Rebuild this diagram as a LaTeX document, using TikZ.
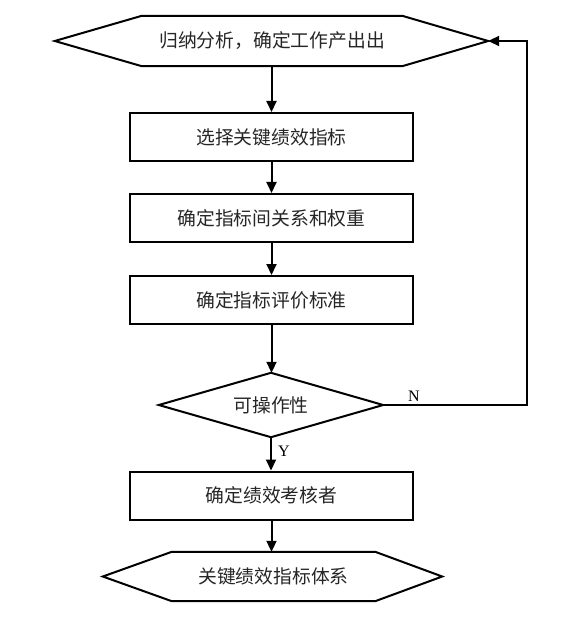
\documentclass[tikz,border=0pt]{standalone}
\usepackage{fontspec}
\setmainfont{Liberation Serif}
\newfontfamily\cjk{Noto Sans CJK SC}
\usetikzlibrary{arrows.meta}
\tikzset{
  every picture/.style={x=1pt,y=-1pt},
  line/.style={line width=2pt},
  arr/.style={line width=2pt,-{Triangle[length=11pt,width=10pt]}},
  txt/.style={font=\cjk\fontsize{18.8}{21}\selectfont,inner sep=0pt,text=black!85},
  boxr/.style={txt,draw,line width=2pt,minimum width=283pt,minimum height=48pt},
  hexbase/.style={txt},
  lbl/.style={font=\fontsize{16}{18}\selectfont,inner sep=0pt}
}
\begin{document}
\begin{tikzpicture}
\useasboundingbox (0,0) rectangle (581,617);
% top hexagon
\node[hexbase,minimum width=260pt,minimum height=50pt] (h1) at (272,41) {归纳分析，确定工作产出出};
\coordinate (h1r) at ([xshift=86pt]h1.east);
\coordinate (h1l) at ([xshift=-87pt]h1.west);
\draw[line] (h1.north west) -- (h1.north east) -- (h1r) -- (h1.south east) -- (h1.south west) -- (h1l) -- cycle;
% boxes
\node[boxr] (r1) at (271.5,137) {选择关键绩效指标};
\node[boxr] (r2) at (271.5,218) {确定指标间关系和权重};
\node[boxr] (r3) at (271.5,300) {确定指标评价标准};
% diamond
\node[txt,minimum width=224pt,minimum height=64pt] (d) at (271,405) {可操作性};
\draw[line] (d.west) -- (d.north) -- (d.east) -- (d.south) -- cycle;
\node[boxr] (r5) at (271.5,495.5) {确定绩效考核者};
% bottom hexagon
\node[hexbase,minimum width=203pt,minimum height=49pt] (h2) at (273.5,576.5) {关键绩效指标体系};
\coordinate (h2r) at ([xshift=67pt]h2.east);
\coordinate (h2l) at ([xshift=-69pt]h2.west);
\draw[line] (h2.north west) -- (h2.north east) -- (h2r) -- (h2.south east) -- (h2.south west) -- (h2l) -- cycle;
% arrows
\draw[arr] (h1.south -| r1.north) -- (r1.north);
\draw[arr] (r1) -- (r2);
\draw[arr] (r2) -- (r3);
\draw[arr] (r3.south) -- (d.north -| r3.south);
\draw[arr] (d.south) -- (r5.north -| d.south);
\draw[arr] (r5.south) -- (h2.north -| r5.south);
\coordinate (c1) at (527,405);
\coordinate (c2) at (527,41);
\draw[arr] (d.east) -- (c1) -- (c2) -- (h1r);
\node[lbl] (n) at (414,396) {N};
\node[lbl] (y) at (284,451) {Y};
\end{tikzpicture}
\end{document}
